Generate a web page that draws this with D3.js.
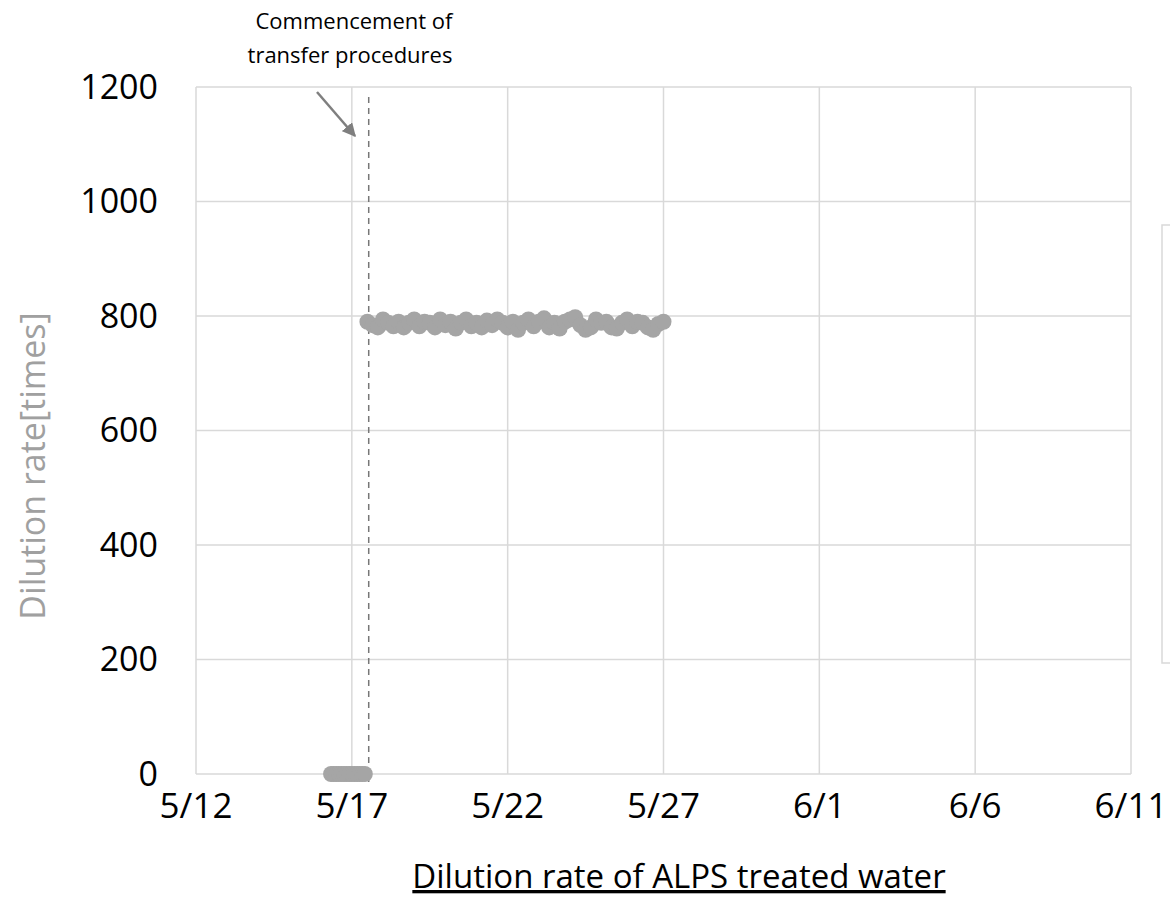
<!DOCTYPE html>
<html>
<head>
<meta charset="utf-8">
<script src="https://cdn.jsdelivr.net/npm/d3@7"></script>
<style>
  body { margin: 0; background: #fff; }
  svg { display: block; font-family: "Open Sans", "Noto Sans", sans-serif; }
</style>
</head>
<body>
<svg id="chart" width="1170" height="921"></svg>
<script>
// x ticks (5 day steps)
var tickDates = ['2023-05-12', '2023-05-17', '2023-05-22', '2023-05-27', '2023-06-01', '2023-06-06', '2023-06-11'];
var yTicks = [0, 200, 400, 600, 800, 1000, 1200];

// before transfer: zero readings, every 2 hours from 5/16 08:00
var zeroStart = '2023-05-16T08:00';
var zeroValues = [0, 0, 0, 0, 0, 0, 0, 0, 0, 0, 0, 0, 0, 0];

// after transfer: every 4 hours from 5/17 12:00
var rateStart = '2023-05-17T12:00';
var rateValues = [
  790, 784, 780, 794, 788, 782, 790, 780, 788, 794,
  782, 790, 788, 780, 794, 784, 790, 778, 788, 794,
  782, 788, 780, 792, 784, 794, 788, 780, 790, 776,
  788, 794, 782, 790, 796, 780, 788, 778, 790, 794,
  798, 784, 776, 780, 794, 788, 790, 780, 778, 788,
  794, 782, 790, 788, 780, 776, 786, 790
];

var transferDate = '2023-05-17T13:00';

var parse = d3.isoParse;
function series(start, step, vals) {
  var t0 = parse(start);
  return vals.map(function (v, i) {
    return { date: d3.timeHour.offset(t0, i * step), value: v };
  });
}
var points = series(zeroStart, 2, zeroValues).concat(series(rateStart, 4, rateValues));

var svg = d3.select('#chart');
var plotLeft = 196, plotRight = 1131, plotTop = 87, plotBottom = 774;

var x = d3.scaleTime()
  .domain([parse(tickDates[0]), parse(tickDates[tickDates.length - 1])])
  .range([plotLeft, plotRight]);
var y = d3.scaleLinear().domain([0, 1200]).range([plotBottom, plotTop]);

var gridColor = '#d9d9d9';
var fmt = d3.timeFormat('%-m/%-d');

// horizontal grid
svg.append('g')
  .selectAll('line')
  .data(yTicks)
  .join('line')
  .attr('x1', plotLeft)
  .attr('x2', plotRight)
  .attr('y1', function (d) { return y(d); })
  .attr('y2', function (d) { return y(d); })
  .attr('stroke', gridColor)
  .attr('stroke-width', 1.5);

// vertical grid
svg.append('g')
  .selectAll('line')
  .data(tickDates)
  .join('line')
  .attr('x1', function (d) { return x(parse(d)); })
  .attr('x2', function (d) { return x(parse(d)); })
  .attr('y1', plotTop)
  .attr('y2', plotBottom)
  .attr('stroke', gridColor)
  .attr('stroke-width', 1.5);

// y labels
svg.append('g')
  .selectAll('text')
  .data(yTicks)
  .join('text')
  .attr('x', 158)
  .attr('y', function (d) { return y(d); })
  .attr('dy', '0.35em')
  .attr('text-anchor', 'end')
  .attr('font-size', 34)
  .attr('fill', '#000')
  .text(function (d) { return d; });

// x labels
svg.append('g')
  .selectAll('text')
  .data(tickDates)
  .join('text')
  .attr('x', function (d) { return x(parse(d)); })
  .attr('y', 818)
  .attr('text-anchor', 'middle')
  .attr('font-size', 35)
  .attr('fill', '#000')
  .text(function (d) { return fmt(parse(d)); });

// transfer start line
var tx = x(parse(transferDate));
svg.append('line')
  .attr('x1', tx)
  .attr('x2', tx)
  .attr('y1', 97)
  .attr('y2', plotBottom + 8)
  .attr('stroke', '#777')
  .attr('stroke-width', 1.5)
  .attr('stroke-dasharray', '6,5');

// points
svg.append('g')
  .selectAll('circle')
  .data(points)
  .join('circle')
  .attr('cx', function (d) { return x(d.date); })
  .attr('cy', function (d) { return y(d.value); })
  .attr('r', 8)
  .attr('fill', '#a5a5a5');

// annotation
svg.append('defs').append('marker')
  .attr('id', 'arrow')
  .attr('viewBox', '0 0 10 10')
  .attr('refX', 9)
  .attr('refY', 5)
  .attr('markerWidth', 5.5)
  .attr('markerHeight', 5.5)
  .attr('orient', 'auto')
  .append('path')
  .attr('d', 'M0,0 L10,5 L0,10 z')
  .attr('fill', '#7f7f7f');

svg.append('line')
  .attr('x1', 317)
  .attr('y1', 92)
  .attr('x2', 355)
  .attr('y2', 136)
  .attr('stroke', '#7f7f7f')
  .attr('stroke-width', 2.5)
  .attr('marker-end', 'url(#arrow)');

var note = svg.append('text')
  .attr('text-anchor', 'middle')
  .attr('font-size', 22)
  .attr('fill', '#000');
note.append('tspan').attr('x', 354).attr('y', 29).text('Commencement of');
note.append('tspan').attr('x', 350).attr('y', 63).text('transfer procedures');

// y title
svg.append('text')
  .attr('transform', 'translate(45,466) rotate(-90)')
  .attr('text-anchor', 'middle')
  .attr('font-size', 34)
  .attr('fill', '#a0a0a0')
  .text('Dilution rate[times]');

// x title
svg.append('text')
  .attr('x', 679)
  .attr('y', 888)
  .attr('text-anchor', 'middle')
  .attr('font-size', 33)
  .attr('fill', '#000')
  .attr('text-decoration', 'underline')
  .text('Dilution rate of ALPS treated water');

// legend box (cut off at the right edge)
svg.append('rect')
  .attr('x', 1162)
  .attr('y', 225)
  .attr('width', 60)
  .attr('height', 438)
  .attr('fill', 'none')
  .attr('stroke', gridColor)
  .attr('stroke-width', 1.5);
</script>
</body>
</html>
